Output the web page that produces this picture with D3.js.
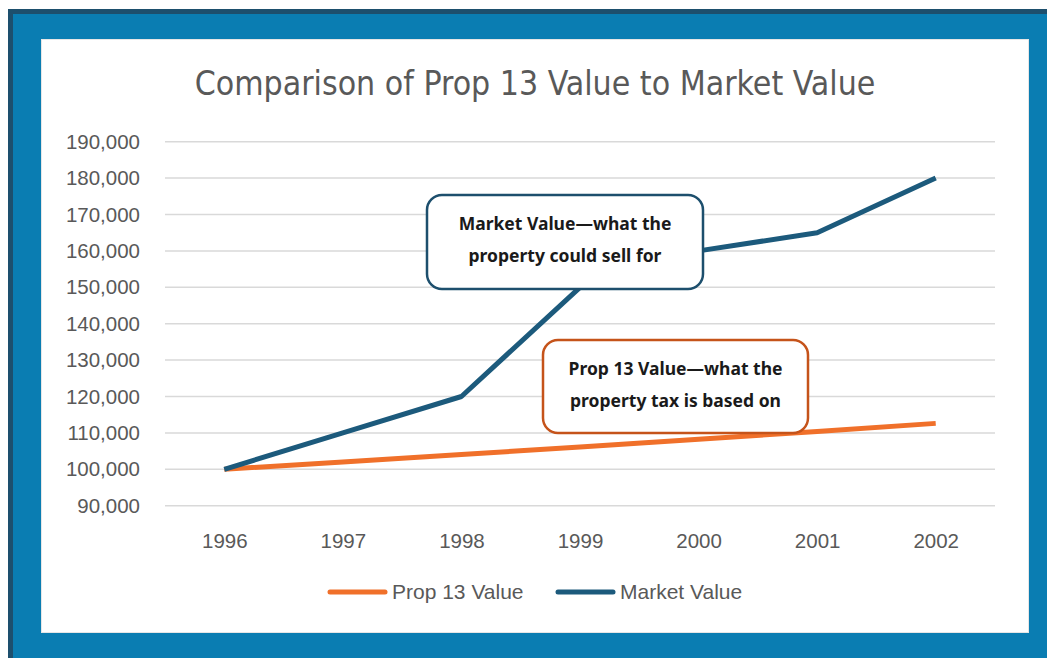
<!DOCTYPE html>
<html lang="en">
<head>
<meta charset="utf-8">
<title>Comparison of Prop 13 Value to Market Value</title>
<script src="https://d3js.org/d3.v7.min.js"></script>
<style>
  body { margin: 0; background: #fff; }
  .grid line { stroke: #d9d9d9; stroke-width: 1.5px; }
  .axis text { fill: #595959; font-family: "Liberation Sans", Arial, sans-serif; font-size: 20.5px; }
  .callout text { font-family: "Noto Sans", "Open Sans", sans-serif; font-weight: bold; font-size: 17.5px; fill: #1a1a1a; }
</style>
</head>
<body>
<div id="chart"></div>
<script>
// chart data
var years = ["1996", "1997", "1998", "1999", "2000", "2001", "2002"];
var prop13 = [100000, 102000, 104040, 106121, 108243, 110408, 112616];
var market = [100000, 110000, 120000, 150000, 160000, 165000, 180000];
var yTicks = [90000, 100000, 110000, 120000, 130000, 140000, 150000, 160000, 170000, 180000, 190000];
var seriesNames = ["Prop 13 Value", "Market Value"];
var titleText = "Comparison of Prop 13 Value to Market Value";
var marketNote = ["Market Value\u2014what the", "property could sell for"];
var prop13Note = ["Prop 13 Value\u2014what the", "property tax is based on"];

var W = 1047, H = 658;
var orange = "#f0702a", navy = "#1c5a7c";

var svg = d3.select("#chart").append("svg")
    .attr("width", W)
    .attr("height", H);

// frame: dark edge, blue border, white panel
svg.append("rect").attr("x", 8).attr("y", 9).attr("width", W - 8).attr("height", H - 9).attr("fill", "#1d4f6d");
svg.append("rect").attr("x", 13).attr("y", 14).attr("width", W - 13).attr("height", H - 14).attr("fill", "#0a7db2");
svg.append("rect").attr("x", 41).attr("y", 39).attr("width", 988).attr("height", 594).attr("fill", "#e6e6e6");
svg.append("rect").attr("x", 42).attr("y", 40).attr("width", 986).attr("height", 592).attr("fill", "#fff");

var x = d3.scalePoint().domain(years).range([165, 995]).padding(0.5);
var y = d3.scaleLinear().domain([90000, 190000]).range([505.7, 141.7]);

// gridlines
svg.append("g").attr("class", "grid")
  .selectAll("line").data(yTicks).enter().append("line")
    .attr("x1", 165).attr("x2", 995)
    .attr("y1", function(d) { return y(d); })
    .attr("y2", function(d) { return y(d); });

// y axis labels
var yAxis = svg.append("g").attr("class", "axis")
    .attr("transform", "translate(165,0)")
    .call(d3.axisLeft(y).tickValues(yTicks).tickSize(0).tickPadding(25)
      .tickFormat(d3.format(",")));
yAxis.select(".domain").remove();

// x axis labels
var xAxis = svg.append("g").attr("class", "axis")
    .attr("transform", "translate(0,527)")
    .call(d3.axisBottom(x).tickSize(0).tickPadding(6));
xAxis.select(".domain").remove();

var line = d3.line()
    .x(function(d, i) { return x(years[i]); })
    .y(function(d) { return y(d); });

svg.append("path").datum(prop13)
    .attr("d", line)
    .attr("fill", "none").attr("stroke", orange)
    .attr("stroke-width", 5).attr("stroke-linejoin", "round");

svg.append("path").datum(market)
    .attr("d", line)
    .attr("fill", "none").attr("stroke", navy)
    .attr("stroke-width", 5).attr("stroke-linejoin", "round");

// title, squeezed to the narrow look of the original
var title = svg.append("text")
    .attr("x", 535).attr("y", 95)
    .attr("text-anchor", "middle")
    .attr("fill", "#595959")
    .style("font-family", "'Liberation Sans Narrow', 'DejaVu Sans Condensed', sans-serif")
    .style("font-size", "34px")
    .text(titleText);
var tw = title.node().getComputedTextLength();
title.style("font-size", (34 * 681 / tw) + "px");

// callouts
function callout(bx, by, bw, bh, color, lines) {
  var g = svg.append("g").attr("class", "callout");
  g.append("rect")
    .attr("x", bx).attr("y", by).attr("width", bw).attr("height", bh)
    .attr("rx", 15).attr("ry", 15)
    .attr("fill", "#fff").attr("stroke", color).attr("stroke-width", 2.5);
  g.selectAll("text").data(lines).enter().append("text")
    .attr("x", bx + bw / 2)
    .attr("y", function(d, i) { return by + 35 + i * 32; })
    .attr("text-anchor", "middle")
    .text(function(d) { return d; });
}
callout(427, 195, 276, 94, "#1d4f6d", marketNote);
callout(543, 340, 265, 93, "#c5531a", prop13Note);

// legend
var legend = svg.append("g").attr("transform", "translate(330,592)");
var lg = legend.selectAll("g").data(seriesNames).enter().append("g")
    .attr("transform", function(d, i) { return "translate(" + (i * 228) + ",0)"; });
lg.append("line")
    .attr("x1", 0).attr("x2", 55)
    .attr("stroke", function(d, i) { return i ? navy : orange; })
    .attr("stroke-width", 5).attr("stroke-linecap", "round");
lg.append("text")
    .attr("x", 62).attr("dy", "0.35em")
    .attr("fill", "#595959")
    .style("font-family", "'Liberation Sans', Arial, sans-serif")
    .style("font-size", "21px")
    .text(function(d) { return d; });
</script>
</body>
</html>
